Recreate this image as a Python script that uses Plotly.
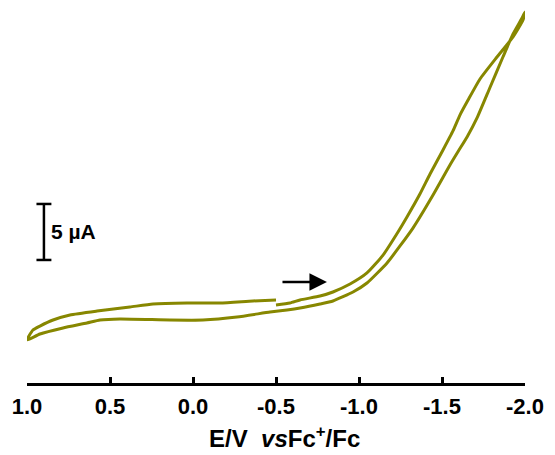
import plotly.graph_objects as go

# Cyclic voltammogram: potential (V vs Fc+/Fc) and current (µA, arbitrary offset)
# forward scan -0.5 V -> -2.0 V
E_forward = [-0.500, -0.584, -0.645, -0.765, -0.843, -0.946, -1.048, -1.145, -1.235,
             -1.289, -1.367, -1.428, -1.506, -1.566, -1.608, -1.657, -1.729, -1.831,
             -1.928, -1.988, -2.000]
I_forward = [1.34, 1.52, 1.79, 2.14, 2.50, 3.21, 4.20, 5.80, 7.86,
             9.20, 11.25, 13.04, 15.18, 16.88, 18.30, 19.64, 21.52, 23.48,
             25.27, 26.79, 27.50]
# reverse scan -2.0 V -> +1.0 V
E_reverse = [-1.982, -1.928, -1.867, -1.789, -1.711, -1.651, -1.596, -1.548, -1.446,
             -1.325, -1.247, -1.169, -1.048, -0.964, -0.843, -0.765, -0.645, -0.566,
             -0.464, -0.265, -0.060, 0.139, 0.440, 0.560, 0.639, 0.783, 0.922, 1.000]
I_reverse = [26.96, 25.54, 23.48, 20.76, 18.04, 16.34, 15.02, 13.84, 11.16,
             8.21, 6.61, 5.09, 3.30, 2.50, 1.70, 1.43, 1.07, 0.89,
             0.71, 0.27, 0.00, 0.00, 0.09, 0.00, -0.27, -0.71, -1.25, -1.79]
# return scan +1.0 V -> -0.5 V
E_return = [0.964, 0.922, 0.843, 0.741, 0.578, 0.380, 0.241, 0.036, -0.163, -0.361, -0.500]
I_return = [-0.89, -0.54, 0.00, 0.45, 0.80, 1.16, 1.43, 1.52, 1.52, 1.70, 1.79]

tick_vals = [1.0, 0.5, 0.0, -0.5, -1.0, -1.5, -2.0]
tick_text = ["1.0", "0.5", "0.0", "-0.5", "-1.0", "-1.5", "-2.0"]

# 5 µA scale bar and scan-direction arrow (data units)
scale_E = 0.898
scale_I0 = 5.36
scale_len = 5.0
scale_label = "5 µA"
arrow_E = [-0.530, -0.807]
arrow_I = 3.39

E_all = E_forward + E_reverse + E_return
I_all = I_forward + I_reverse + I_return

fig = go.Figure()
fig.add_trace(go.Scatter(x=E_all, y=I_all, mode="lines",
                         line=dict(color="#878700", width=3, shape="spline", smoothing=0.5),
                         hoverinfo="skip", showlegend=False))

bold = dict(family="Liberation Sans, Arial, sans-serif", color="black", weight="bold")

# scale bar
cap = 0.045
fig.add_shape(type="line", x0=scale_E, x1=scale_E, y0=scale_I0, y1=scale_I0 + scale_len,
              line=dict(color="black", width=2.5))
for yy in (scale_I0, scale_I0 + scale_len):
    fig.add_shape(type="line", x0=scale_E + cap, x1=scale_E - cap, y0=yy, y1=yy,
                  line=dict(color="black", width=2.5))
fig.add_annotation(x=scale_E - 0.03, y=scale_I0 + scale_len / 2, text=scale_label,
                   showarrow=False, xanchor="left", yanchor="middle",
                   font=dict(size=21, **bold))

# arrow
fig.add_annotation(x=arrow_E[1], y=arrow_I, ax=arrow_E[0], ay=arrow_I,
                   xref="x", yref="y", axref="x", ayref="y", text="",
                   showarrow=True, arrowhead=2, arrowsize=1.4, arrowwidth=2.5,
                   arrowcolor="black")

# axis title
fig.add_annotation(x=0.518, y=-0.144, xref="paper", yref="paper",
                   text="E/V  <i>vs</i>Fc<sup>+</sup>/Fc", showarrow=False,
                   xanchor="center", yanchor="middle", font=dict(size=24, **bold))

fig.update_layout(
    width=547, height=447,
    margin=dict(l=19, r=30, t=0, b=72),
    paper_bgcolor="white", plot_bgcolor="white",
    xaxis=dict(range=[1.0, -2.0], tickvals=tick_vals, ticktext=tick_text,
               showline=True, linecolor="black", linewidth=2.5,
               ticks="inside", ticklen=6, tickwidth=2.5, tickcolor="black",
               showgrid=False, zeroline=False, automargin=False,
               ticklabelstandoff=2,
               tickfont=dict(size=22, **bold)),
    yaxis=dict(range=[-5.625, 27.857], visible=False, showgrid=False, zeroline=False,
               automargin=False),
)

fig.write_html("out.html")
